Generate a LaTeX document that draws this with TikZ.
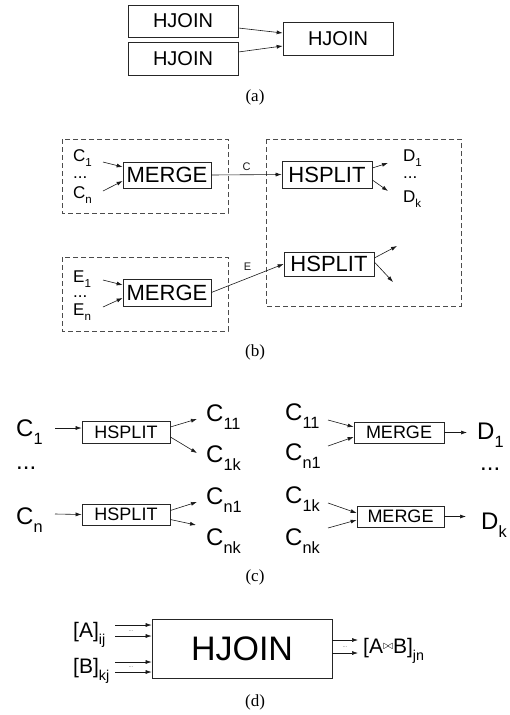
\documentclass[tikz,border=0pt]{standalone}
\usepackage{fontspec}
\setmainfont{Liberation Sans}
\newfontfamily\capfont{Liberation Serif}
\usetikzlibrary{arrows.meta}

\newcommand{\lowidx}[1]{\raisebox{-0.35em}{\scalebox{0.68}{#1}}}
\newcommand{\fsz}[1]{\fontsize{#1}{#1}\selectfont}

\tikzset{
  box/.style={draw=black!85, line width=0.7pt, rectangle, inner sep=0pt},
  dbox/.style={draw=black!70, line width=0.7pt, dash pattern=on 5pt off 3pt},
  arr/.style={-{Latex[length=6pt,width=4pt]}, line width=0.6pt, black!90},
  lbl/.style={anchor=base west, inner sep=0pt},
  tinydots/.style={inner sep=0pt, text=black!60, font=\fsz{6}},
  captext/.style={font=\capfont\fsz{17}},
}

\begin{document}
\begin{tikzpicture}[x=1pt, y=-1pt]
    \useasboundingbox (0,0) rectangle (510,715);

    % (a)
    \node[box, minimum width=110, minimum height=32, font=\fsz{20}] (hj1) at (183,21) {HJOIN};
    \node[box, minimum width=110, minimum height=33, font=\fsz{20}] (hj2) at (183,58.5) {HJOIN};
    \node[box, minimum width=110, minimum height=33, font=\fsz{20}] (hj3) at (338,38.5) {HJOIN};

    \draw[arr] ([yshift=-7pt]hj1.east) -- ([yshift=5.5pt]hj3.west);
    \draw[arr] ([yshift=6.5pt]hj2.east) -- ([yshift=-7.5pt]hj3.west);

    \node[captext] (capa) at (255,97) {(a)};

    % (b)
    \draw[dbox] (62,139) rectangle (228,213);
    \draw[dbox] (62,257) rectangle (228,331);
    \draw[dbox] (266,139) rectangle (461,306);

    \node[lbl, font=\fsz{17}] (c1) at (73,161) {C\lowidx{1}};
    \node[lbl, font=\fsz{17}] (cdots) at (73,178) {...};
    \node[lbl, font=\fsz{17}] (cn) at (73,198) {C\lowidx{n}};
    \node[lbl, font=\fsz{17}] (e1) at (73,282) {E\lowidx{1}};
    \node[lbl, font=\fsz{17}] (edots) at (73,297) {...};
    \node[lbl, font=\fsz{17}] (en) at (73,315) {E\lowidx{n}};

    \node[box, minimum width=88, minimum height=26, font=\fsz{22}] (mc) at (167,175) {MERGE};
    \node[box, minimum width=88, minimum height=27, font=\fsz{22}] (me) at (167,292.5) {MERGE};
    \node[box, minimum width=90, minimum height=27, font=\fsz{22}] (hc) at (327,174.5) {HSPLIT};
    \node[box, minimum width=90, minimum height=24, font=\fsz{22}] (he) at (329,264) {HSPLIT};

    \draw[arr] ([shift={(30,1)}]c1.base west) -- ([yshift=8pt]mc.west);
    \draw[arr] ([shift={(30,-7)}]cn.base west) -- ([yshift=-6pt]mc.west);
    \draw[arr] ([shift={(30,-2)}]e1.base west) -- ([yshift=7.5pt]me.west);
    \draw[arr] ([shift={(30,-8)}]en.base west) -- ([yshift=-5.5pt]me.west);

    \draw[arr] (mc.east) -- node[midway, above=1pt, font=\fsz{11}] {C} (hc.west);
    \draw[arr] (me.east) -- node[midway, above=4pt, font=\fsz{11}] {E} (he.west);

    \node[lbl, font=\fsz{17}] (d1) at (403,161) {D\lowidx{1}};
    \node[lbl, font=\fsz{17}] (ddots) at (403,178) {...};
    \node[lbl, font=\fsz{17}] (dk) at (403,202) {D\lowidx{k}};

    \draw[arr] ([yshift=6.5pt]hc.east) -- ([shift={(-15,2)}]d1.base west);
    \draw[arr] ([yshift=-5.5pt]hc.east) -- ([shift={(-15,-11)}]dk.base west);

    \coordinate (eo1) at (397,246);
    \coordinate (eo2) at (393,282);
    \draw[arr] ([yshift=6pt]he.east) -- (eo1);
    \draw[arr] ([yshift=2pt]he.east) -- (eo2);

    \node[captext] (capb) at (255,352) {(b)};

    % (c)
    \node[lbl, font=\fsz{24}] (ci1) at (16,436) {C\lowidx{1}};
    \node[lbl, font=\fsz{24}] (cidots) at (16,469) {...};
    \node[lbl, font=\fsz{24}] (cin) at (16,524) {C\lowidx{n}};

    \node[box, minimum width=88, minimum height=22, font=\fsz{18}] (hs1) at (126,432) {HSPLIT};
    \node[box, minimum width=88, minimum height=21, font=\fsz{18}] (hs2) at (126,514.5) {HSPLIT};

    \draw[arr] ([shift={(39,-8)}]ci1.base west) -- ([yshift=4pt]hs1.west);
    \draw[arr] ([shift={(39,-10)}]cin.base west) -- (hs2.west);

    \node[lbl, font=\fsz{24}] (c11) at (206,421) {C\lowidx{11}};
    \node[lbl, font=\fsz{24}] (c1k) at (206,462) {C\lowidx{1k}};
    \node[lbl, font=\fsz{24}] (cn1) at (206,504) {C\lowidx{n1}};
    \node[lbl, font=\fsz{24}] (cnk) at (206,545) {C\lowidx{nk}};

    \draw[arr] ([yshift=5pt]hs1.east) -- ([shift={(-9,-2)}]c11.base west);
    \draw[arr] ([yshift=-5pt]hs1.east) -- ([shift={(-9,-9)}]c1k.base west);
    \draw[arr] ([yshift=4pt]hs2.east) -- ([shift={(-9,-2)}]cn1.base west);
    \draw[arr] ([yshift=-5pt]hs2.east) -- ([shift={(-10,-20)}]cnk.base west);

    \node[lbl, font=\fsz{24}] (r11) at (285,420) {C\lowidx{11}};
    \node[lbl, font=\fsz{24}] (rn1) at (285,460) {C\lowidx{n1}};
    \node[lbl, font=\fsz{24}] (r1k) at (285,503) {C\lowidx{1k}};
    \node[lbl, font=\fsz{24}] (rnk) at (285,545) {C\lowidx{nk}};

    \node[box, minimum width=90, minimum height=21, font=\fsz{18}] (mg1) at (399,432.5) {MERGE};
    \node[box, minimum width=87, minimum height=21, font=\fsz{18}] (mg2) at (400.5,516.5) {MERGE};

    \draw[arr] ([shift={(43,0)}]r11.base west) -- ([yshift=5.5pt]mg1.west);
    \draw[arr] ([shift={(43,-14)}]rn1.base west) -- ([yshift=-4.5pt]mg1.west);
    \draw[arr] ([shift={(43,0)}]r1k.base west) -- ([yshift=3.5pt]mg2.west);
    \draw[arr] ([shift={(43,-17)}]rnk.base west) -- ([yshift=-3.5pt]mg2.west);

    \node[lbl, font=\fsz{24}] (od1) at (477,439) {D\lowidx{1}};
    \node[lbl, font=\fsz{24}] (oddots) at (480,470) {...};
    \node[lbl, font=\fsz{24}] (odk) at (481,529) {D\lowidx{k}};

    \draw[arr] (mg1.east) -- ([xshift=-10pt]mg1.east -| od1.west);
    \draw[arr] (mg2.east) -- ([xshift=-15pt]mg2.east -| odk.west);

    \node[captext] (capc) at (255,577) {(c)};

    % (d)
    \node[box, minimum width=180, minimum height=59, font=\fsz{34}] (hjd) at (242,648.5) {HJOIN};

    \node[lbl, font=\fsz{21}] (ain) at (73,637) {[A]\lowidx{ij}};
    \node[lbl, font=\fsz{21}] (bin) at (73,673) {[B]\lowidx{kj}};
    \coordinate (a1) at (115,625);
    \coordinate (a2) at (115,636);
    \coordinate (b1) at (115,662);
    \coordinate (b2) at (115,672);
    \draw[arr] (a1) -- (a1 -| hjd.west);
    \draw[arr] (a2) -- (a2 -| hjd.west);
    \draw[arr] (b1) -- (b1 -| hjd.west);
    \draw[arr] (b2) -- (b2 -| hjd.west);
    \node[tinydots] (adots) at (131,631) {...};
    \node[tinydots] (bdots) at (131,667) {...};

    \coordinate (o1) at (358,640);
    \coordinate (o2) at (358,653);
    \draw[arr] (o1 -| hjd.east) -- (o1);
    \draw[arr] (o2 -| hjd.east) -- (o2);
    \node[tinydots] (odots) at (345,647) {...};
    \node[lbl, font=\fsz{21}] (about) at (363,653) {[A\raisebox{0.15em}{\scalebox{0.6}{$\bowtie$}}B]\lowidx{jn}};

    \node[captext] (capd) at (255,702) {(d)};
\end{tikzpicture}
\end{document}
